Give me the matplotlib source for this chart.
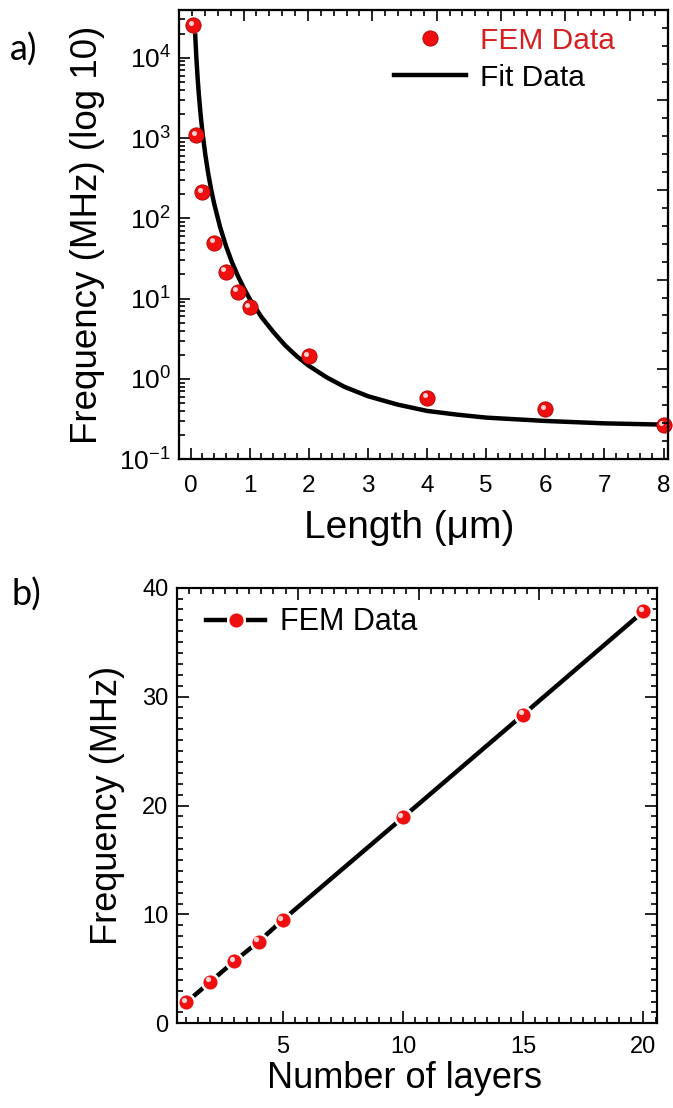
import numpy as np
import matplotlib.pyplot as plt
from matplotlib.ticker import MultipleLocator, LogLocator, NullFormatter
from matplotlib.transforms import ScaledTranslation

plt.rcParams['font.family'] = ['Liberation Sans', 'DejaVu Sans']
plt.rcParams['mathtext.fontset'] = 'custom'
plt.rcParams['mathtext.rm'] = 'Liberation Sans'
plt.rcParams['mathtext.default'] = 'regular'

# ---------------- data ----------------
# a) frequency vs length
length = [0.05, 0.1, 0.2, 0.4, 0.6, 0.8, 1, 2, 4, 6, 8]
fem_freq = [25500, 1090, 211, 50, 21.7, 12.2, 7.8, 1.93, 0.585, 0.42, 0.267]

fit_length = [0.08, 0.09, 0.1, 0.12, 0.14, 0.17, 0.2, 0.25, 0.3, 0.35, 0.4, 0.5,
              0.6, 0.7, 0.8, 0.9, 1.0, 1.2, 1.4, 1.6, 1.8, 2.0, 2.3, 2.6, 3.0,
              3.5, 4.0, 4.5, 5.0, 6.0, 7.0, 8.0]
fit_freq = [18900, 13300, 9700, 5610, 3535, 1975, 1213, 621, 359, 226, 152, 77.9,
            45.2, 28.5, 19.2, 13.6, 9.95, 5.9, 3.85, 2.62, 1.91, 1.46, 1.05, 0.80, 0.61,
            0.48, 0.40, 0.36, 0.33, 0.30, 0.28, 0.27]

# b) frequency vs number of layers
layers = [1, 2, 3, 4, 5, 10, 15, 20]
layer_freq = [1.93, 3.82, 5.72, 7.49, 9.48, 18.9, 28.35, 37.83]

red = '#ee1010'
dark_red = '#b00000'

fig = plt.figure(figsize=(6.73, 11.08), dpi=100)
hl = ScaledTranslation(-1.8 / 72, 1.8 / 72, fig.dpi_scale_trans)  # sphere highlight offset


def style_ticks(a, maj=8, mnr=4.5):
    a.tick_params(which='both', direction='in', width=1.2)
    a.tick_params(which='major', length=maj)
    a.tick_params(which='minor', length=mnr)
    for s in a.spines.values():
        s.set_linewidth(1.5)


########################### PANEL a ###################################
ax = fig.add_axes([0.2664, 0.5855, 0.7266, 0.4055])
ax.set_yscale('log')

fit_line, = ax.plot(fit_length, fit_freq, color='black', lw=3.2, label='Fit Data', zorder=2)
fem_pts, = ax.plot(length, fem_freq, ls='none', marker='o', ms=11, mfc=red, mec=dark_red,
                   mew=0.6, label='FEM Data', zorder=3, clip_on=False)
ax.plot(length, fem_freq, ls='none', marker='o', ms=3.6, mfc='#ffd0d0', mec='none',
        transform=ax.transData + hl, zorder=4, clip_on=False)

ax.set_xlim(-0.19, 8.08)
ax.set_ylim(0.1, 39300)
ax.xaxis.set_major_locator(MultipleLocator(1))
ax.xaxis.set_minor_locator(MultipleLocator(0.2))
ax.yaxis.set_major_locator(LogLocator(base=10, numticks=10))
ax.yaxis.set_minor_locator(LogLocator(base=10, subs=np.arange(2, 10), numticks=20))
ax.yaxis.set_minor_formatter(NullFormatter())
style_ticks(ax)
ax.tick_params(top=False, right=False)
ax.tick_params(axis='x', labelsize=17.5, pad=11)
ax.tick_params(axis='y', labelsize=19, pad=6)

ax.set_xlabel('Length (μm)', fontsize=28)
ax.xaxis.set_label_coords(0.47, -0.112)
ax.set_ylabel('Frequency (MHz) (log 10)', fontsize=26.5)
ax.yaxis.set_label_coords(-0.152, 0.5)

# top / right tick rows (spaced independently in the original)
ax_t = ax.twiny()
ax_t.set_xlim(0, 7.6)
ax_t.xaxis.set_major_locator(MultipleLocator(1))
ax_t.xaxis.set_minor_locator(MultipleLocator(0.2))
ax_t.tick_params(labeltop=False)
style_ticks(ax_t)
ax_r = ax.twinx()
ax_r.set_ylim(0, 5)
ax_r.yaxis.set_major_locator(MultipleLocator(1))
ax_r.yaxis.set_minor_locator(MultipleLocator(0.2))
ax_r.tick_params(labelright=False)
style_ticks(ax_r)

leg = ax_r.legend([fem_pts, fit_line], ['FEM Data', 'Fit Data'], loc='upper left',
                  bbox_to_anchor=(0.44, 0.963), frameon=False, fontsize=21.5,
                  handlelength=2.4, handletextpad=0.45, labelspacing=0.3,
                  borderpad=0, borderaxespad=0)
leg.get_texts()[0].set_color('#d42020')

fig.text(10 / 673, 1 - 50 / 1108, 'a)', fontsize=26, family='Lato', va='center', ha='left')

########################### PANEL b ###################################
ax2 = fig.add_axes([0.2626, 0.0764, 0.7132, 0.3932])
fem2, = ax2.plot(layers, layer_freq, color='black', lw=3.2, marker='o', ms=12,
                 mfc=red, mec='white', mew=1.8, label='FEM Data', zorder=3, clip_on=False)
ax2.plot(layers, layer_freq, ls='none', marker='o', ms=3.8, mfc='#ffd0d0', mec='none',
         transform=ax2.transData + hl, zorder=4, clip_on=False)

ax2.set_xlim(0.6, 20.55)
ax2.set_ylim(0, 40)
ax2.xaxis.set_major_locator(MultipleLocator(5))
ax2.xaxis.set_minor_locator(MultipleLocator(0.5))
ax2.yaxis.set_major_locator(MultipleLocator(10))
ax2.yaxis.set_minor_locator(MultipleLocator(1))
style_ticks(ax2, maj=8.5, mnr=4)
ax2.tick_params(which='both', top=False, right=True)
ax2.tick_params(axis='x', labelsize=17, pad=9)
ax2.tick_params(axis='y', labelsize=17, pad=6)

ax2.set_xlabel('Number of layers', fontsize=26)
ax2.xaxis.set_label_coords(0.475, -0.087)
ax2.set_ylabel('Frequency (MHz)', fontsize=26)
ax2.yaxis.set_label_coords(-0.108, 0.5)

ax2_t = ax2.twiny()
ax2_t.set_xlim(0, 3.97)
ax2_t.xaxis.set_major_locator(MultipleLocator(1))
ax2_t.xaxis.set_minor_locator(MultipleLocator(0.1))
ax2_t.tick_params(labeltop=False)
style_ticks(ax2_t, maj=8.5, mnr=4)

leg2 = ax2_t.legend([fem2], ['FEM Data'], loc='upper left', bbox_to_anchor=(0.062, 0.955),
                    frameon=False, fontsize=22, handlelength=1.9, handletextpad=0.5,
                    borderpad=0, borderaxespad=0)

fig.text(12 / 673, 1 - 595 / 1108, 'b)', fontsize=26, family='Lato', va='center', ha='left')

plt.savefig('out.png', dpi=100, facecolor='w')
